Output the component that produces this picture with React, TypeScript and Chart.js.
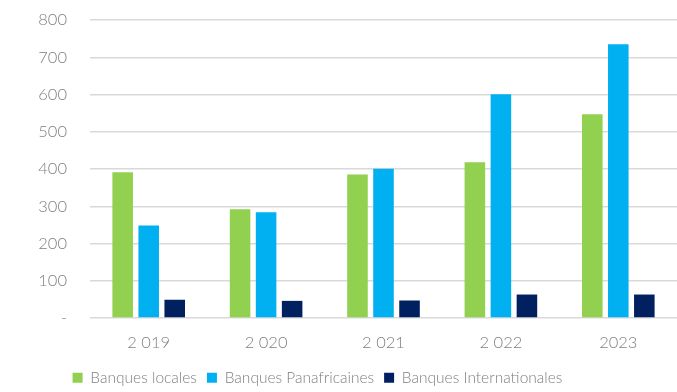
import React, { useEffect, useRef } from "react";
import { Chart, registerables } from "chart.js";

Chart.register(...registerables);

const years = ["2 019", "2 020", "2 021", "2 022", "2023"];
const banquesLocales = [391, 292, 385, 418, 547];
const banquesPanafricaines = [248, 284, 401, 601, 735];
const banquesInternationales = [49, 46, 47, 63, 63];

const FONT = "Lato, 'Open Sans', sans-serif";
const GREY = "#7f7f7f";
const TEXT = { family: FONT, size: 16.5, weight: 300 as any };
const LEGEND_TEXT = { family: FONT, size: 15.5, weight: 300 as any };

// Nudges the legend block after layout so it sits a little lower and left.
const legendOffset = {
  id: "legendOffset",
  afterLayout(chart: any) {
    const lg = chart.legend;
    if (!lg) return;
    const dx = -21;
    const dy = 6;
    lg.left += dx;
    lg.right += dx;
    lg.top += dy;
    lg.bottom += dy;
  },
};

export default function App() {
  const ref = useRef<HTMLCanvasElement | null>(null);

  useEffect(() => {
    if (!ref.current) return;
    const chart = new Chart(ref.current, {
      type: "bar",
      data: {
        labels: years,
        datasets: [
          { label: "Banques locales", data: banquesLocales, backgroundColor: "#92D050" },
          { label: "Banques Panafricaines", data: banquesPanafricaines, backgroundColor: "#00B0F0" },
          { label: "Banques Internationales", data: banquesInternationales, backgroundColor: "#002060" },
        ],
      },
      plugins: [legendOffset],
      options: {
        responsive: true,
        maintainAspectRatio: false,
        animation: false,
        layout: { padding: { top: 20, right: 0, bottom: 2.5, left: 0 } },
        datasets: { bar: { categoryPercentage: 0.665, barPercentage: 0.79 } },
        plugins: {
          tooltip: { enabled: false },
          legend: {
            position: "bottom",
            labels: {
              boxWidth: 10,
              boxHeight: 10,
              padding: 10,
              color: GREY,
              font: LEGEND_TEXT,
            },
          },
        },
        scales: {
          x: {
            grid: { display: false, drawTicks: false },
            border: { display: false },
            afterFit: (scale: any) => {
              scale.height = 36;
            },
            ticks: { color: GREY, font: TEXT, padding: 15 },
          },
          y: {
            min: 0,
            max: 800,
            afterFit: (scale: any) => {
              scale.width = 90;
              scale.paddingTop = 0;
              scale.paddingBottom = 0;
            },
            grid: { color: "#d9d9d9", lineWidth: 1.5, drawTicks: false },
            border: { display: false },
            ticks: {
              stepSize: 100,
              color: GREY,
              padding: 23,
              font: TEXT,
              callback: (v: any) => (Number(v) === 0 ? "-" : String(v)),
            },
          },
        },
      },
    });
    return () => chart.destroy();
  }, []);

  return (
    <div style={{ position: "fixed", left: 0, top: 0, width: 677, height: 392, background: "#fff" }}>
      <canvas ref={ref} />
    </div>
  );
}
